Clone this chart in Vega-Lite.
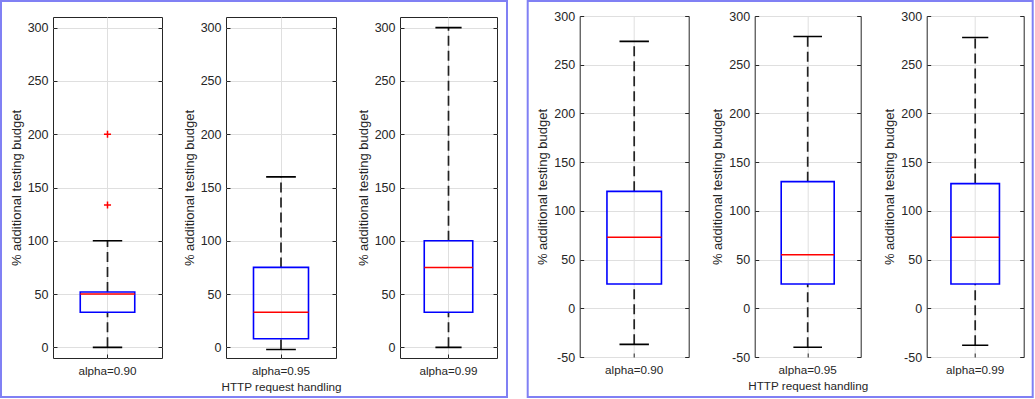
{
  "$schema": "https://vega.github.io/schema/vega-lite/v6.json",
  "padding": 0,
  "background": "white",
  "config": {
    "view": {"stroke": "#262626", "strokeWidth": 1},
    "axis": {
      "labelFont": "Liberation Sans", "titleFont": "Liberation Sans",
      "labelFontSize": 12.5, "titleFontSize": 12, "titleFontWeight": "normal",
      "labelColor": "#262626", "titleColor": "#262626",
      "gridColor": "#dfdfdf", "gridOpacity": 1, "gridWidth": 1,
      "domain": false, "tickColor": "#262626", "tickSize": -4, "tickWidth": 1
    },
    "axisY": {"labelPadding": 9, "titlePadding": 4, "titleFontSize": 13, "labelExpr": "datum.value + ''", "grid": true},
    "axisX": {"labelPadding": 11, "titlePadding": 5, "labelFontSize": 11.7, "titleFontSize": 11.7, "labelAngle": 0, "grid": true, "bandPosition": 0.5},
    "rule": {"strokeDash": [10, 5], "strokeWidth": 1.7, "color": "#222222"}
  },
  "datasets": {
    "left": [
      {"alpha": "alpha=0.90", "lo": 0, "q1": 33, "med": 50, "q3": 52, "hi": 100},
      {"alpha": "alpha=0.95", "lo": -2, "q1": 8, "med": 33, "q3": 75, "hi": 160},
      {"alpha": "alpha=0.99", "lo": 0, "q1": 33, "med": 75, "q3": 100, "hi": 300}
    ],
    "leftOut": [
      {"alpha": "alpha=0.90", "v": 200},
      {"alpha": "alpha=0.90", "v": 133.5}
    ],
    "right": [
      {"alpha": "alpha=0.90", "lo": -37, "q1": 25, "med": 73, "q3": 120, "hi": 274},
      {"alpha": "alpha=0.95", "lo": -40, "q1": 25, "med": 55, "q3": 130, "hi": 279},
      {"alpha": "alpha=0.99", "lo": -38, "q1": 25, "med": 73, "q3": 128, "hi": 278}
    ]
  },
  "hconcat": [
    {
      "hconcat": [
        {"width": 506, "height": 396, "view": {"stroke": "#8080f4", "strokeWidth": 2}, "data": {"values": []}, "mark": "point"},
        {
          "vconcat": [
            {"width": 1, "height": 1, "view": {"stroke": null, "fill": "white", "fillOpacity": 0}, "data": {"values": []}, "mark": "point"},
            {
              "hconcat": [
                {
                  "width": 109, "height": 341,
                  "data": {"name": "left"},
                  "transform": [{"filter": "datum.alpha == 'alpha=0.90'"}],
                  "encoding": {"x": {"field": "alpha", "type": "nominal", "scale": {"paddingInner": 0, "paddingOuter": 0}, "axis": {"title": null, "grid": true, "bandPosition": 0.5}}},
                  "layer": [
                    {"mark": "rule", "encoding": {"y": {"field": "lo", "type": "quantitative", "scale": {"domain": [-10, 310], "nice": false, "zero": false}, "axis": {"values": [0, 50, 100, 150, 200, 250, 300], "title": "% additional testing budget"}}, "y2": {"field": "q1"}}},
                    {"mark": "rule", "encoding": {"y": {"field": "q3", "type": "quantitative", "axis": null}, "y2": {"field": "hi"}}},
                    {"mark": {"type": "bar", "width": {"band": 0.5}, "fill": "transparent", "stroke": "#0000ff", "strokeWidth": 1.6}, "encoding": {"y": {"field": "q1", "type": "quantitative", "axis": null}, "y2": {"field": "q3"}}},
                    {"mark": {"type": "bar", "width": {"band": 0.27}, "fill": "transparent", "stroke": "#000000", "strokeWidth": 1.6}, "encoding": {"y": {"field": "lo", "type": "quantitative", "axis": null}, "y2": {"field": "lo"}}},
                    {"mark": {"type": "bar", "width": {"band": 0.27}, "fill": "transparent", "stroke": "#000000", "strokeWidth": 1.6}, "encoding": {"y": {"field": "hi", "type": "quantitative", "axis": null}, "y2": {"field": "hi"}}},
                    {"mark": {"type": "bar", "width": {"band": 0.5}, "fill": "transparent", "stroke": "#ff0000", "strokeWidth": 1.5}, "encoding": {"y": {"field": "med", "type": "quantitative", "axis": {"orient": "right", "labels": false, "title": null, "grid": false, "values": [0, 50, 100, 150, 200, 250, 300]}}, "y2": {"field": "med"}}},
                    {"data": {"name": "leftOut"}, "mark": {"type": "point", "shape": "M-1,0H1M0,-1V1", "size": 50, "stroke": "#ff0000", "strokeWidth": 1.5, "filled": false, "opacity": 1}, "encoding": {"y": {"field": "v", "type": "quantitative", "axis": null}}}
                  ],
                  "resolve": {"axis": {"y": "independent"}}
                },
                {
                  "width": 110, "height": 341,
                  "data": {"name": "left"},
                  "transform": [{"filter": "datum.alpha == 'alpha=0.95'"}],
                  "encoding": {"x": {"field": "alpha", "type": "nominal", "scale": {"paddingInner": 0, "paddingOuter": 0}, "axis": {"title": "HTTP request handling", "grid": true, "bandPosition": 0.5}}},
                  "layer": [
                    {"mark": "rule", "encoding": {"y": {"field": "lo", "type": "quantitative", "scale": {"domain": [-10, 310], "nice": false, "zero": false}, "axis": {"values": [0, 50, 100, 150, 200, 250, 300], "title": "% additional testing budget"}}, "y2": {"field": "q1"}}},
                    {"mark": "rule", "encoding": {"y": {"field": "q3", "type": "quantitative", "axis": null}, "y2": {"field": "hi"}}},
                    {"mark": {"type": "bar", "width": {"band": 0.5}, "fill": "transparent", "stroke": "#0000ff", "strokeWidth": 1.6}, "encoding": {"y": {"field": "q1", "type": "quantitative", "axis": null}, "y2": {"field": "q3"}}},
                    {"mark": {"type": "bar", "width": {"band": 0.27}, "fill": "transparent", "stroke": "#000000", "strokeWidth": 1.6}, "encoding": {"y": {"field": "lo", "type": "quantitative", "axis": null}, "y2": {"field": "lo"}}},
                    {"mark": {"type": "bar", "width": {"band": 0.27}, "fill": "transparent", "stroke": "#000000", "strokeWidth": 1.6}, "encoding": {"y": {"field": "hi", "type": "quantitative", "axis": null}, "y2": {"field": "hi"}}},
                    {"mark": {"type": "bar", "width": {"band": 0.5}, "fill": "transparent", "stroke": "#ff0000", "strokeWidth": 1.5}, "encoding": {"y": {"field": "med", "type": "quantitative", "axis": {"orient": "right", "labels": false, "title": null, "grid": false, "values": [0, 50, 100, 150, 200, 250, 300]}}, "y2": {"field": "med"}}}
                  ],
                  "resolve": {"axis": {"y": "independent"}}
                },
                {
                  "width": 97, "height": 341,
                  "data": {"name": "left"},
                  "transform": [{"filter": "datum.alpha == 'alpha=0.99'"}],
                  "encoding": {"x": {"field": "alpha", "type": "nominal", "scale": {"paddingInner": 0, "paddingOuter": 0}, "axis": {"title": null, "grid": true, "bandPosition": 0.5}}},
                  "layer": [
                    {"mark": "rule", "encoding": {"y": {"field": "lo", "type": "quantitative", "scale": {"domain": [-10, 310], "nice": false, "zero": false}, "axis": {"values": [0, 50, 100, 150, 200, 250, 300], "title": "% additional testing budget"}}, "y2": {"field": "q1"}}},
                    {"mark": "rule", "encoding": {"y": {"field": "q3", "type": "quantitative", "axis": null}, "y2": {"field": "hi"}}},
                    {"mark": {"type": "bar", "width": {"band": 0.5}, "fill": "transparent", "stroke": "#0000ff", "strokeWidth": 1.6}, "encoding": {"y": {"field": "q1", "type": "quantitative", "axis": null}, "y2": {"field": "q3"}}},
                    {"mark": {"type": "bar", "width": {"band": 0.27}, "fill": "transparent", "stroke": "#000000", "strokeWidth": 1.6}, "encoding": {"y": {"field": "lo", "type": "quantitative", "axis": null}, "y2": {"field": "lo"}}},
                    {"mark": {"type": "bar", "width": {"band": 0.27}, "fill": "transparent", "stroke": "#000000", "strokeWidth": 1.6}, "encoding": {"y": {"field": "hi", "type": "quantitative", "axis": null}, "y2": {"field": "hi"}}},
                    {"mark": {"type": "bar", "width": {"band": 0.5}, "fill": "transparent", "stroke": "#ff0000", "strokeWidth": 1.5}, "encoding": {"y": {"field": "med", "type": "quantitative", "axis": {"orient": "right", "labels": false, "title": null, "grid": false, "values": [0, 50, 100, 150, 200, 250, 300]}}, "y2": {"field": "med"}}}
                  ],
                  "resolve": {"axis": {"y": "independent"}}
                }
              ],
              "spacing": 64,
              "bounds": "flush"
            }
          ],
          "spacing": 14,
          "align": {"row": "none", "column": "each"}
        }
      ],
      "spacing": -499,
      "align": {"column": "none", "row": "each"}
    },
    {
      "hconcat": [
        {"width": 505, "height": 396, "view": {"stroke": "#8080f4", "strokeWidth": 2}, "data": {"values": []}, "mark": "point"},
        {
          "vconcat": [
            {"width": 1, "height": 1, "view": {"stroke": null, "fill": "white", "fillOpacity": 0}, "data": {"values": []}, "mark": "point"},
            {
              "hconcat": [
                {
                  "width": 109, "height": 341,
                  "data": {"name": "right"},
                  "transform": [{"filter": "datum.alpha == 'alpha=0.90'"}],
                  "encoding": {"x": {"field": "alpha", "type": "nominal", "scale": {"paddingInner": 0, "paddingOuter": 0}, "axis": {"title": null, "grid": true, "bandPosition": 0.5}}},
                  "layer": [
                    {"mark": "rule", "encoding": {"y": {"field": "lo", "type": "quantitative", "scale": {"domain": [-50, 300], "nice": false, "zero": false}, "axis": {"values": [-50, 0, 50, 100, 150, 200, 250, 300], "title": "% additional testing budget"}}, "y2": {"field": "q1"}}},
                    {"mark": "rule", "encoding": {"y": {"field": "q3", "type": "quantitative", "axis": null}, "y2": {"field": "hi"}}},
                    {"mark": {"type": "bar", "width": {"band": 0.5}, "fill": "transparent", "stroke": "#0000ff", "strokeWidth": 1.6}, "encoding": {"y": {"field": "q1", "type": "quantitative", "axis": null}, "y2": {"field": "q3"}}},
                    {"mark": {"type": "bar", "width": {"band": 0.27}, "fill": "transparent", "stroke": "#000000", "strokeWidth": 1.6}, "encoding": {"y": {"field": "lo", "type": "quantitative", "axis": null}, "y2": {"field": "lo"}}},
                    {"mark": {"type": "bar", "width": {"band": 0.27}, "fill": "transparent", "stroke": "#000000", "strokeWidth": 1.6}, "encoding": {"y": {"field": "hi", "type": "quantitative", "axis": null}, "y2": {"field": "hi"}}},
                    {"mark": {"type": "bar", "width": {"band": 0.5}, "fill": "transparent", "stroke": "#ff0000", "strokeWidth": 1.5}, "encoding": {"y": {"field": "med", "type": "quantitative", "axis": {"orient": "right", "labels": false, "title": null, "grid": false, "values": [-50, 0, 50, 100, 150, 200, 250, 300]}}, "y2": {"field": "med"}}}
                  ],
                  "resolve": {"axis": {"y": "independent"}}
                },
                {
                  "width": 106, "height": 341,
                  "data": {"name": "right"},
                  "transform": [{"filter": "datum.alpha == 'alpha=0.95'"}],
                  "encoding": {"x": {"field": "alpha", "type": "nominal", "scale": {"paddingInner": 0, "paddingOuter": 0}, "axis": {"title": "HTTP request handling", "grid": true, "bandPosition": 0.5}}},
                  "layer": [
                    {"mark": "rule", "encoding": {"y": {"field": "lo", "type": "quantitative", "scale": {"domain": [-50, 300], "nice": false, "zero": false}, "axis": {"values": [-50, 0, 50, 100, 150, 200, 250, 300], "title": "% additional testing budget"}}, "y2": {"field": "q1"}}},
                    {"mark": "rule", "encoding": {"y": {"field": "q3", "type": "quantitative", "axis": null}, "y2": {"field": "hi"}}},
                    {"mark": {"type": "bar", "width": {"band": 0.5}, "fill": "transparent", "stroke": "#0000ff", "strokeWidth": 1.6}, "encoding": {"y": {"field": "q1", "type": "quantitative", "axis": null}, "y2": {"field": "q3"}}},
                    {"mark": {"type": "bar", "width": {"band": 0.27}, "fill": "transparent", "stroke": "#000000", "strokeWidth": 1.6}, "encoding": {"y": {"field": "lo", "type": "quantitative", "axis": null}, "y2": {"field": "lo"}}},
                    {"mark": {"type": "bar", "width": {"band": 0.27}, "fill": "transparent", "stroke": "#000000", "strokeWidth": 1.6}, "encoding": {"y": {"field": "hi", "type": "quantitative", "axis": null}, "y2": {"field": "hi"}}},
                    {"mark": {"type": "bar", "width": {"band": 0.5}, "fill": "transparent", "stroke": "#ff0000", "strokeWidth": 1.5}, "encoding": {"y": {"field": "med", "type": "quantitative", "axis": {"orient": "right", "labels": false, "title": null, "grid": false, "values": [-50, 0, 50, 100, 150, 200, 250, 300]}}, "y2": {"field": "med"}}}
                  ],
                  "resolve": {"axis": {"y": "independent"}}
                },
                {
                  "width": 97, "height": 341,
                  "data": {"name": "right"},
                  "transform": [{"filter": "datum.alpha == 'alpha=0.99'"}],
                  "encoding": {"x": {"field": "alpha", "type": "nominal", "scale": {"paddingInner": 0, "paddingOuter": 0}, "axis": {"title": null, "grid": true, "bandPosition": 0.5}}},
                  "layer": [
                    {"mark": "rule", "encoding": {"y": {"field": "lo", "type": "quantitative", "scale": {"domain": [-50, 300], "nice": false, "zero": false}, "axis": {"values": [-50, 0, 50, 100, 150, 200, 250, 300], "title": "% additional testing budget"}}, "y2": {"field": "q1"}}},
                    {"mark": "rule", "encoding": {"y": {"field": "q3", "type": "quantitative", "axis": null}, "y2": {"field": "hi"}}},
                    {"mark": {"type": "bar", "width": {"band": 0.5}, "fill": "transparent", "stroke": "#0000ff", "strokeWidth": 1.6}, "encoding": {"y": {"field": "q1", "type": "quantitative", "axis": null}, "y2": {"field": "q3"}}},
                    {"mark": {"type": "bar", "width": {"band": 0.27}, "fill": "transparent", "stroke": "#000000", "strokeWidth": 1.6}, "encoding": {"y": {"field": "lo", "type": "quantitative", "axis": null}, "y2": {"field": "lo"}}},
                    {"mark": {"type": "bar", "width": {"band": 0.27}, "fill": "transparent", "stroke": "#000000", "strokeWidth": 1.6}, "encoding": {"y": {"field": "hi", "type": "quantitative", "axis": null}, "y2": {"field": "hi"}}},
                    {"mark": {"type": "bar", "width": {"band": 0.5}, "fill": "transparent", "stroke": "#ff0000", "strokeWidth": 1.5}, "encoding": {"y": {"field": "med", "type": "quantitative", "axis": {"orient": "right", "labels": false, "title": null, "grid": false, "values": [-50, 0, 50, 100, 150, 200, 250, 300]}}, "y2": {"field": "med"}}}
                  ],
                  "resolve": {"axis": {"y": "independent"}}
                }
              ],
              "spacing": 66,
              "bounds": "flush"
            }
          ],
          "spacing": 7,
          "align": {"row": "none", "column": "each"}
        }
      ],
      "spacing": -498,
      "align": {"column": "none", "row": "each"}
    }
  ],
  "spacing": 18.7
}
